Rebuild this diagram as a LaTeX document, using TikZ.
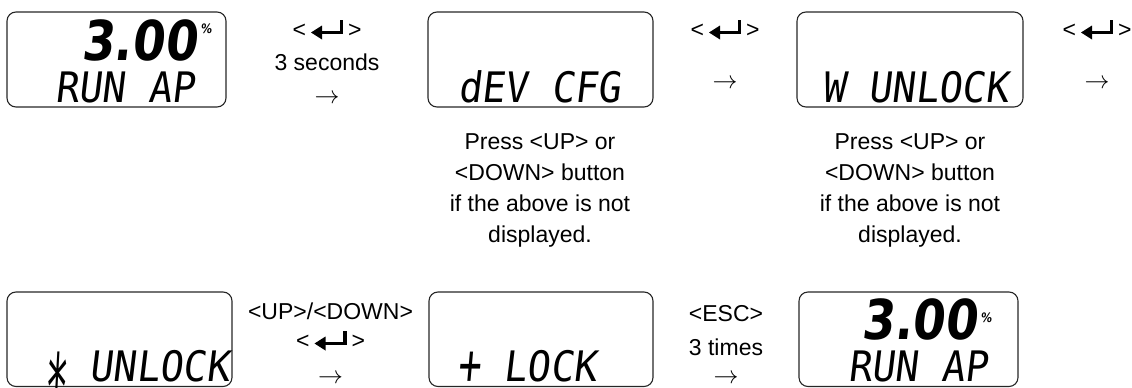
\documentclass[tikz,border=0pt]{standalone}
\usepackage{fontspec}
\usepackage{graphicx}
\setmainfont{Liberation Sans}
\newfontfamily\lcdfont[FakeSlant=0.12,FakeStretch=0.92]{DejaVu Sans Mono}
\newfontfamily\lcdbig[FakeSlant=0.12,FakeStretch=0.85]{DejaVu Sans}
\tikzset{
  lcdbox/.style={draw=black!85, line width=1.1pt, rounded corners=9pt, inner sep=0pt},
  lbl/.style={font=\fontsize{23}{31}\selectfont, inner sep=0pt, anchor=base},
  lcdtxt/.style={font=\lcdfont\fontsize{42}{42}\selectfont, inner sep=0pt, anchor=base west},
  lcddig/.style={font=\lcdbig\bfseries\fontsize{55}{55}\selectfont, inner sep=0pt, anchor=base east},
  lcdpct/.style={font=\lcdbig\bfseries\fontsize{13}{13}\selectfont, inner sep=0pt, anchor=base west},
  enterkey/.pic={
    \fill (-16,-4.5) -- (-5,-11.5) -- (-5,2.5) -- cycle;
    \draw[line width=3.2pt] (-6,-4.5) -- (14.4,-4.5) -- (14.4,-17.5);
  }
}
\begin{document}
\begin{tikzpicture}[x=1pt,y=-1pt]
\useasboundingbox (0,0) rectangle (1132,388);
% display boxes
\node[lcdbox, minimum width=219pt, minimum height=95pt] (b1) at (116.5,59.5) {};
\node[lcdbox, minimum width=225pt, minimum height=95pt] (b2) at (540.5,59.5) {};
\node[lcdbox, minimum width=226pt, minimum height=95pt] (b3) at (910,59.5) {};
\node[lcdbox, minimum width=225pt, minimum height=94.5pt] (b4) at (119.5,339.25) {};
\node[lcdbox, minimum width=224pt, minimum height=94.5pt] (b5) at (541,339.25) {};
\node[lcdbox, minimum width=219pt, minimum height=94.5pt] (b6) at (908.5,339.25) {};
% display texts
\node[lcddig] (d1) at (197,60) {3.00};
\node[lcdpct] (c1) at (200.5,33) {\%};
\node[lcdtxt] (t1) at (55,102) {RUN AP};
\node[lcdtxt] (t2) at (458,102) {dEV CFG};
\node[lcdtxt] (t3) at (822,102) {W UNLOCK};
\node[lcdtxt] (t4) at (43,381) {\raisebox{-0.95em}[0.72em][0pt]{\scalebox{1}[2.2]{*}} UNLOCK};
\node[lcdtxt] (t5) at (457,381) {\raisebox{-0.08em}[0.72em][0pt]{\scalebox{1}[1.35]{+}} LOCK};
\node[lcddig] (d6) at (977,339) {3.00};
\node[lcdpct] (c6) at (980.5,322) {\%};
\node[lcdtxt] (t6) at (848,381) {RUN AP};
% top row labels
\node[lbl] (k1) at (327,37) {<\hspace{42pt}>};
\pic at (k1.base) {enterkey};
\node[lbl] (s1) at (327,70) {3 seconds};
\node[lbl] (a1) at (327,103) {$\rightarrow$};
\node[lbl] (k2) at (725,37) {<\hspace{42pt}>};
\pic at (k2.base) {enterkey};
\node[lbl] (a2) at (725,88) {$\rightarrow$};
\node[lbl] (k3) at (1097,37) {<\hspace{42pt}>};
\pic at (k3.base) {enterkey};
\node[lbl] (a3) at (1097,88) {$\rightarrow$};
% notes
\node[lbl, align=center, anchor=north] (p2) at (540,133.5) {Press <UP> or\\<DOWN> button\\if the above is not\\displayed.};
\node[lbl, align=center, anchor=north] (p3) at (910,133.5) {Press <UP> or\\<DOWN> button\\if the above is not\\displayed.};
% bottom row labels
\node[lbl] (u1) at (330.5,319) {<UP>/<DOWN>};
\node[lbl] (k4) at (330.5,348) {<\hspace{42pt}>};
\pic at (k4.base) {enterkey};
\node[lbl] (a4) at (330.5,383) {$\rightarrow$};
\node[lbl] (e1) at (726,321) {<ESC>};
\node[lbl] (s2) at (726,355) {3 times};
\node[lbl] (a5) at (726,383) {$\rightarrow$};
\end{tikzpicture}
\end{document}
